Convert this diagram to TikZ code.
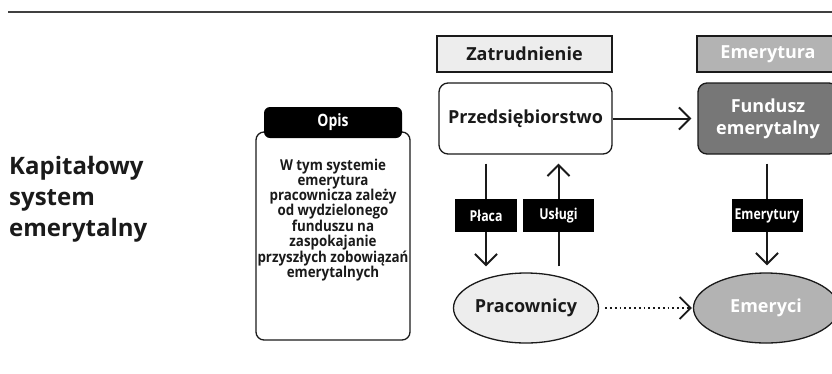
\documentclass[tikz,border=0pt]{standalone}
\usepackage{fontspec}
\setmainfont{Open Sans}
\newfontfamily\narrowfont[FakeStretch=0.89]{Open Sans}
\newfontfamily\tagfont[FakeStretch=0.82]{Open Sans}
\usetikzlibrary{shapes,arrows.meta}
\definecolor{ink}{HTML}{1A1A1A}
\definecolor{paleg}{HTML}{EDEDED}
\definecolor{midg}{HTML}{B3B3B3}
\definecolor{darkg}{HTML}{777777}
\newcommand\lbl{\fontsize{18}{22}\selectfont\bfseries}
\newcommand\narrowlbl{\narrowfont\fontsize{15}{15}\selectfont\bfseries}
\newcommand\taglbl{\tagfont\fontsize{15}{15}\selectfont\bfseries}
\tikzstyle{hdr}=[draw=ink,line width=1.3pt,minimum height=36pt,inner sep=0pt,font=\lbl]
\tikzstyle{blk}=[rounded corners=9pt,draw=ink,line width=1.3pt,minimum height=71pt,inner sep=0pt,align=center,font=\lbl]
\tikzstyle{oval}=[ellipse,draw=ink,line width=1.3pt,minimum width=145pt,minimum height=70pt,inner sep=0pt,font=\lbl]
\tikzstyle{tag}=[fill=black,text=white,minimum height=33pt,inner sep=0pt,font=\taglbl]
\tikzstyle{wire}=[line width=2pt,draw=ink]
\tikzstyle{flow}=[wire,-{Straight Barb[length=11pt,width=22pt]}]
\tikzstyle{dots}=[line width=1.8pt,draw=ink,dash pattern=on 1.8pt off 3pt,-{Straight Barb[length=11pt,width=22pt]}]

\begin{document}
\begin{tikzpicture}[x=1pt,y=-1pt]
\useasboundingbox (0,0) rectangle (832,373);
\draw[line width=1.5pt,black!75] (8,12) -- (832,12);

\node[anchor=west,align=left,inner sep=0pt,text=ink,font=\fontsize{24}{31}\selectfont\bfseries] (tytul) at (9,199.5) {Kapitałowy\\system\\emerytalny};

\node[draw=ink,line width=1.3pt,rounded corners=8pt,minimum width=154pt,minimum height=208pt] (opis) at (333,236) {};
\node[fill=black,text=white,rounded corners=6pt,minimum width=138pt,minimum height=31pt,inner sep=0pt,font=\tagfont\fontsize{17}{17}\selectfont\bfseries] (opistag) at (333,122.5) {Opis};
\node[align=center,text=ink,inner sep=0pt,font=\narrowlbl] (opistxt) at (333,220) {W tym systemie\\emerytura\\pracownicza zależy\\od wydzielonego\\funduszu na\\zaspokajanie\\przyszłych zobowiązań\\emerytalnych};

\node[hdr,fill=paleg,text=ink,minimum width=175pt] (zatr) at (524.5,54) {Zatrudnienie};
\node[hdr,fill=midg,text=white,minimum width=142pt] (emer) at (768,54) {Emerytura};
\node[blk,fill=white,text=ink,minimum width=173pt] (firma) at (525.5,118.5) {Przedsiębiorstwo};
\node[blk,fill=darkg,text=white,minimum width=140pt] (fundusz) at (768,118.5) {Fundusz\\emerytalny};
\node[oval,fill=paleg,text=ink] (pracownicy) at (526,308) {Pracownicy};
\node[oval,fill=midg,text=white] (emeryci) at (766,308) {Emeryci};
\node[tag,minimum width=62pt] (placa) at (486,215.5) {Płaca};
\node[tag,minimum width=71pt] (uslugi) at (558.5,215.5) {Usługi};
\node[tag,minimum width=71pt] (emerytury) at (767,215.5) {Emerytury};

\draw[flow,shorten >=6pt] (firma) -- (fundusz);
\draw[wire,shorten <=9pt] (placa |- firma.south) -- (placa.north);
\draw[flow,shorten >=6pt] (placa.south) -- (placa |- pracownicy.north);
\draw[wire,shorten <=6pt] (uslugi |- pracownicy.north) -- (uslugi.south);
\draw[flow,shorten >=9pt] (uslugi.north) -- (uslugi |- firma.south);
\draw[wire,shorten <=9pt] (emerytury |- fundusz.south) -- (emerytury.north);
\draw[flow,shorten >=7pt] (emerytury.south) -- (emerytury |- emeryci.north);
\draw[dots,shorten <=6pt,shorten >=1pt] (pracownicy) -- (emeryci);
\end{tikzpicture}
\end{document}
